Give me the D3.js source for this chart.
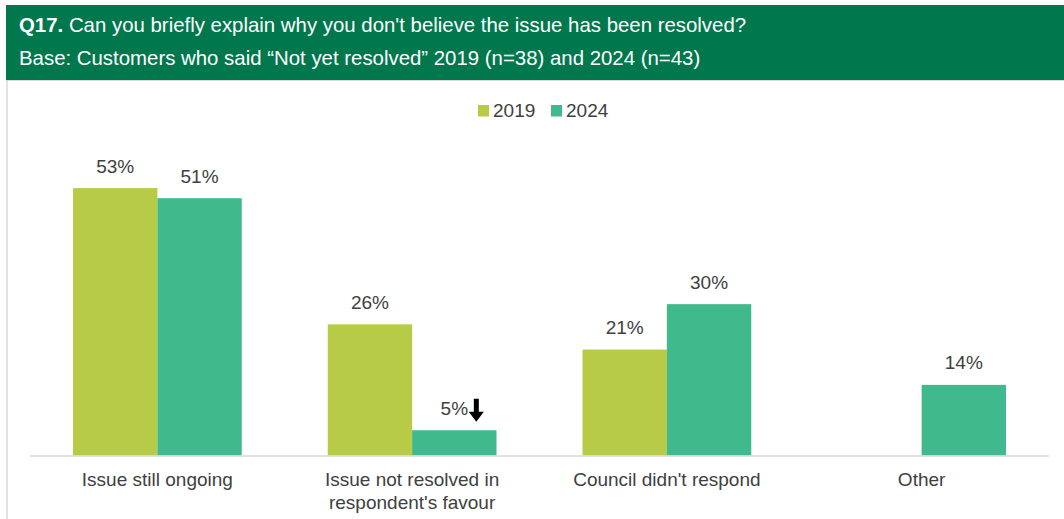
<!DOCTYPE html>
<html>
<head>
<meta charset="utf-8">
<script src="https://cdn.jsdelivr.net/npm/d3@7"></script>
<style>
  html, body { margin: 0; padding: 0; background: #ffffff; }
  svg { display: block; font-family: "Liberation Sans", Arial, Helvetica, sans-serif; }
</style>
</head>
<body>
<svg id="chart" width="1064" height="519"></svg>
<script>
// Reasons given for the issue not being resolved, share of respondents (%)
const categories = ["Issue still ongoing", "Issue not resolved in respondent's favour", "Council didn't respond", "Other"];
const categoryLines = [["Issue still ongoing"], ["Issue not resolved in", "respondent's favour"], ["Council didn't respond"], ["Other"]];
const seriesNames = ["2019", "2024"];
const values2019 = [53, 26, 21, null];
const values2024 = [51, 5, 30, 14];
// Significant decrease flag per category for 2024
const decrease2024 = [false, true, false, false];

const titleBold = "Q17.";
const titleText = " Can you briefly explain why you don't believe the issue has been resolved?";
const baseText = "Base: Customers who said \u201CNot yet resolved\u201D 2019 (n=38) and 2024 (n=43)";

const colors = { "2019": "#b7cb46", "2024": "#40ba8d" };
const textColor = "#404040";

const svg = d3.select("#chart");
const W = 1064, H = 519;

// Header band
svg.append("rect").attr("x", 6).attr("y", 5).attr("width", W - 6).attr("height", 75).attr("fill", "#00774c");
svg.append("line").attr("x1", 6).attr("x2", W).attr("y1", 80.5).attr("y2", 80.5).attr("stroke", "#d9d9d9").attr("stroke-width", 1);
svg.append("line").attr("x1", 7).attr("x2", 7).attr("y1", 80).attr("y2", H).attr("stroke", "#d9d9d9").attr("stroke-width", 1.5);

const t1 = svg.append("text").attr("x", 19).attr("y", 32).attr("fill", "#fff").attr("font-size", 20.4);
t1.append("tspan").attr("font-weight", "bold").text(titleBold);
t1.append("tspan").text(titleText);
svg.append("text").attr("x", 19).attr("y", 64.5).attr("fill", "#fff").attr("font-size", 20.4).text(baseText);

// Legend
const legend = svg.append("g");
const legendX = [478, 551];
seriesNames.forEach((s, i) => {
  legend.append("rect").attr("x", legendX[i]).attr("y", 105).attr("width", 11).attr("height", 11.5).attr("fill", colors[s]);
  legend.append("text").attr("x", legendX[i] + 15).attr("y", 117).attr("fill", textColor).attr("font-size", 19).text(s);
});

// Scales
const x = d3.scaleBand().domain(categories).range([30, 1049]).paddingInner(0).paddingOuter(0);
const xSub = d3.scaleBand().domain(seriesNames).range([43, x.bandwidth() - 43]).padding(0);
const baseY = 455.5;
const y = d3.scaleLinear().domain([0, 60]).range([baseY, baseY - 60 * 5.045]);

const rows = categories.map((c, i) => ({
  cat: c,
  vals: [
    { s: "2019", v: values2019[i], dec: false },
    { s: "2024", v: values2024[i], dec: decrease2024[i] }
  ].filter(d => d.v !== null)
}));

const groups = svg.append("g").selectAll("g").data(rows).join("g")
  .attr("transform", d => `translate(${x(d.cat)},0)`);

groups.selectAll("rect").data(d => d.vals).join("rect")
  .attr("x", d => xSub(d.s))
  .attr("width", xSub.bandwidth())
  .attr("y", d => y(d.v))
  .attr("height", d => y(0) - y(d.v))
  .attr("fill", d => colors[d.s]);

groups.selectAll("text.val").data(d => d.vals).join("text")
  .attr("class", "val")
  .attr("x", d => xSub(d.s) + xSub.bandwidth() / 2)
  .attr("y", d => y(d.v) - 15.5)
  .attr("text-anchor", "middle")
  .attr("fill", textColor)
  .attr("font-size", 19)
  .text(d => d.v + "%");

// Down arrow marking a significant decrease
groups.selectAll("path.arrow").data(d => d.vals.filter(v => v.dec)).join("path")
  .attr("class", "arrow")
  .attr("transform", d => `translate(${xSub(d.s) + xSub.bandwidth() / 2 + 22},${y(d.v) - 31.5})`)
  .attr("d", "M-2.5,0 L2.5,0 L2.5,13 L7.5,13 L0,23 L-7.5,13 L-2.5,13 Z")
  .attr("fill", "#000");

// Axis baseline
svg.append("line").attr("x1", 30).attr("x2", 1049).attr("y1", baseY + 0.5).attr("y2", baseY + 0.5)
  .attr("stroke", "#d9d9d9").attr("stroke-width", 1.5);

// Category labels
const catLabels = svg.append("g").selectAll("text").data(categories).join("text")
  .attr("x", d => x(d) + x.bandwidth() / 2)
  .attr("y", 486)
  .attr("text-anchor", "middle")
  .attr("fill", textColor)
  .attr("font-size", 19);
catLabels.each(function(d, i) {
  const el = d3.select(this);
  categoryLines[i].forEach((line, j) => {
    el.append("tspan").attr("x", x(d) + x.bandwidth() / 2).attr("dy", j === 0 ? 0 : 23).text(line);
  });
});
</script>
</body>
</html>
